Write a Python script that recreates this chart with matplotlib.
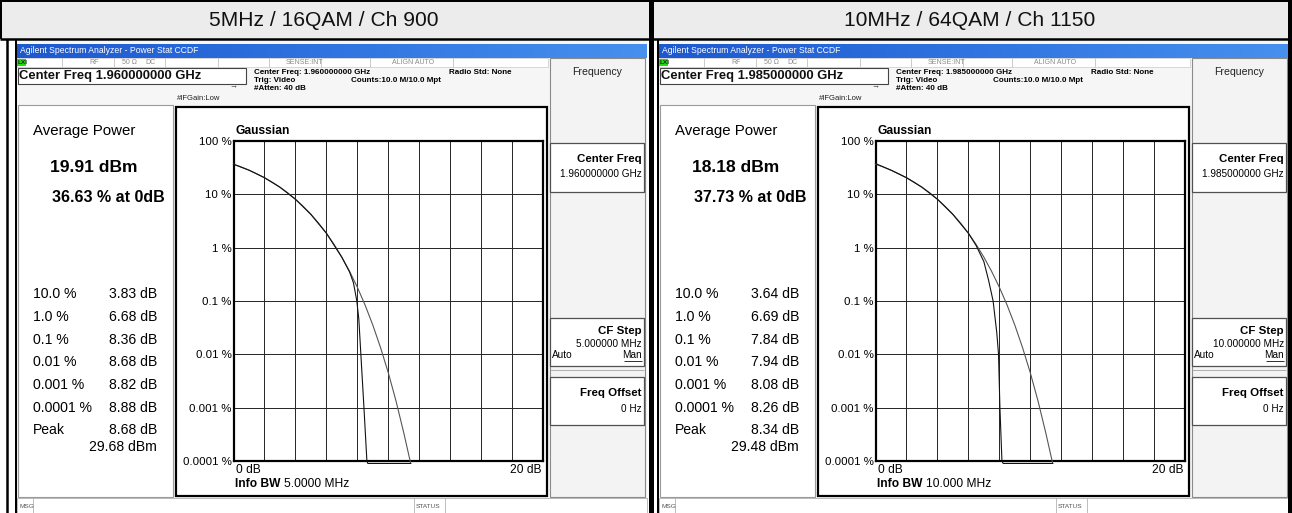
import matplotlib
matplotlib.use("Agg")
import matplotlib.pyplot as plt
from matplotlib.patches import Rectangle
from matplotlib.colors import LinearSegmentedColormap
import numpy as np

# ---------------- data ----------------
titles = ["5MHz / 16QAM / Ch 900", "10MHz / 64QAM / Ch 1150"]
center_freqs = ["1.960000000 GHz", "1.985000000 GHz"]
avg_power = ["19.91 dBm", "18.18 dBm"]
pct_at_0db = ["36.63 % at 0dB", "37.73 % at 0dB"]
ccdf_labels = ["10.0 %", "1.0 %", "0.1 %", "0.01 %", "0.001 %", "0.0001 %", "Peak"]
ccdf_values_5mhz = ["3.83 dB", "6.68 dB", "8.36 dB", "8.68 dB", "8.82 dB", "8.88 dB", "8.68 dB"]
ccdf_values_10mhz = ["3.64 dB", "6.69 dB", "7.84 dB", "7.94 dB", "8.08 dB", "8.26 dB", "8.34 dB"]
peak_dbm = ["29.68 dBm", "29.48 dBm"]
info_bw = ["5.0000 MHz", "10.000 MHz"]
cf_step = ["5.000000 MHz", "10.000000 MHz"]

# Gaussian reference curve (dB above average, % probability)
gauss_db = [0, 0.5, 1, 1.5, 2, 2.5, 3, 3.5, 4, 4.5, 5, 5.5, 6, 6.5, 7, 7.5,
            8, 8.5, 9, 9.5, 10, 10.5, 11, 11.45]
gauss_pct = [36.8, 32.6, 28.4, 24.3, 20.5, 16.9, 13.6, 10.7, 8.1, 5.97, 4.23,
             2.88, 1.87, 1.15, 0.666, 0.361, 0.182, 0.0843, 0.0355, 0.01345,
             0.00454, 0.00134, 0.00034, 0.00009]

# measured traces
meas5_db = [0, 1, 2, 3, 4, 5, 6, 7, 7.5, 7.75, 7.97, 8.1, 8.23, 8.43, 8.62, 8.68, 11.45]
meas5_pct = [36.63, 28.4, 20.5, 13.6, 8.1, 4.2, 1.87, 0.66, 0.35, 0.22, 0.1, 0.045,
             0.01, 0.001, 0.0001, 0.00009, 0.00009]
meas10_db = [0, 1, 2, 3, 4, 5, 6, 6.5, 7.0, 7.3, 7.6, 7.84, 7.95, 8.04, 8.17, 8.25, 11.45]
meas10_pct = [37.73, 28.4, 20.5, 13.6, 8.1, 4.2, 1.87, 1.1, 0.55, 0.25, 0.1, 0.025,
              0.01, 0.001, 0.0001, 0.00009, 0.00009]

ytick_vals = [100, 10, 1, 0.1, 0.01, 0.001, 0.0001]
ytick_labels = ["100 %", "10 %", "1 %", "0.1 %", "0.01 %", "0.001 %", "0.0001 %"]

# ---------------- layout ----------------
W, H, DPI = 1292, 513, 100
FONT = "Liberation Sans"
plt.rcParams["font.family"] = [FONT, "DejaVu Sans"]


def pt(px):
    return px * 72.0 / DPI


fig = plt.figure(figsize=(W / DPI, H / DPI), dpi=DPI)
fig.patch.set_facecolor("white")
ov = fig.add_axes([0, 0, 1, 1], zorder=0)
ov.set_axis_off()

cmap_bar = LinearSegmentedColormap.from_list("bar", ["#1d58cf", "#2f74e0", "#4790ee"])


def T(x, y, s, px, **kw):
    kw.setdefault("va", "center")
    kw.setdefault("ha", "left")
    kw.setdefault("color", "black")
    ov.text(x, y, s, fontsize=pt(px), **kw)


def R(x0, y0, x1, y1, **kw):
    kw.setdefault("fc", "none")
    kw.setdefault("ec", "none")
    ov.add_patch(Rectangle((x0, y0), x1 - x0, y1 - y0, **kw))


def L(xs, ys, c="black", lw=1.0):
    ov.plot(xs, ys, color=c, lw=pt(lw), solid_capstyle="butt")


def screen(ox, i, mdb, mpct, vals):
    # screen background & frame
    R(15 + ox, 40, 647 + ox, 513, fc="#f6f6f6")
    L([15.5 + ox, 15.5 + ox], [40, 513], lw=2)
    # title bar
    ov.imshow(np.linspace(0, 1, 200).reshape(1, -1), cmap=cmap_bar, aspect="auto",
              extent=(17 + ox, 647 + ox, 58, 44), zorder=1)
    T(20 + ox, 50.5, "Agilent Spectrum Analyzer - Power Stat CCDF", 8.6, color="white", zorder=2)
    # status row
    R(17 + ox, 58, 548 + ox, 67, fc="white", ec="#c8c8c8", lw=0.5)
    R(17 + ox, 58.5, 26 + ox, 66, fc="#22dd11")
    T(18 + ox, 62.3, "LXI", 6.5, weight="bold", color="#103010")
    for sx in [62, 114, 165, 218, 269, 321, 370, 453]:
        L([sx + ox, sx + ox], [58, 67], c="#c0c0c0", lw=0.8)
    for sx, s in [(89, "RF"), (122, "50 Ω"), (145, "DC"), (286, "SENSE:INT"), (392, "ALIGN AUTO")]:
        T(sx + ox, 62.5, s, 7, color="#8a8a8a")
    # centre freq box
    R(17.5 + ox, 68, 246 + ox, 84, fc="white", ec="#444444", lw=0.8)
    T(19 + ox, 76.3, "Center Freq " + center_freqs[i], 13, weight="bold", color="#111111")
    T(229 + ox, 86.5, "→", 8, color="#333333")
    T(177 + ox, 98.5, "#IFGain:Low", 7.6, color="#222222")
    info_px = 8.0
    T(254 + ox, 72.5, "Center Freq: " + center_freqs[i], info_px, weight="bold")
    T(449 + ox, 72.5, "Radio Std: None", info_px, weight="bold")
    T(254 + ox, 80.5, "Trig: Video", info_px, weight="bold")
    T(351 + ox, 80.5, "Counts:10.0 M/10.0 Mpt", info_px, weight="bold")
    T(254 + ox, 88.5, "#Atten: 40 dB", info_px, weight="bold")

    # left result panel
    R(17.5 + ox, 105, 173 + ox, 497, fc="white", ec="#9a9a9a", lw=0.8)
    T(33 + ox, 131, "Average Power", 15)
    T(50 + ox, 167, avg_power[i], 17.5, weight="bold")
    T(52 + ox, 197, pct_at_0db[i], 16, weight="bold")
    rows_y = [294, 317, 340, 362, 385, 408, 430]
    for lab, val, yy in zip(ccdf_labels, vals, rows_y):
        T(33 + ox, yy, lab, 14)
        T(157 + ox, yy, val, 14, ha="right")
    T(157 + ox, 447, peak_dbm[i], 14, ha="right")

    # plot box
    R(176 + ox, 107, 547 + ox, 496, fc="white", ec="black", lw=pt(2.2))
    T(235 + ox, 131, "Gaussian", 12, weight="bold")
    T(236 + ox, 470, "0 dB", 12)
    T(541 + ox, 470, "20 dB", 12, ha="right")
    T(235 + ox, 484, "Info BW", 12, weight="bold")
    T(284 + ox, 484, info_bw[i], 12)

    # softkey panel
    R(549.5 + ox, 58, 644.5 + ox, 497, fc="#f3f3f3", ec="#8a8a8a", lw=0.8)
    T(597 + ox, 72, "Frequency", 10.5, ha="center", color="#222222")
    for (y0, y1) in [(143, 192), (318, 366), (377, 425)]:
        R(550 + ox, y0, 644 + ox, y1, fc="white", ec="#505050", lw=0.9)
    T(642 + ox, 158.5, "Center Freq", 11.5, weight="bold", ha="right")
    T(642 + ox, 174, center_freqs[i], 10, ha="right")
    T(642 + ox, 331, "CF Step", 11.5, weight="bold", ha="right")
    T(642 + ox, 344, cf_step[i], 10, ha="right")
    T(552 + ox, 355, "Auto", 10)
    T(642 + ox, 355, "Man", 10, ha="right")
    L([624 + ox, 642 + ox], [361, 361], lw=0.8)
    L([550 + ox, 644 + ox], [370, 370], c="#a0a0a0", lw=0.8)
    T(642 + ox, 393, "Freq Offset", 11.5, weight="bold", ha="right")
    T(642 + ox, 409, "0 Hz", 10, ha="right")

    # message bar
    R(17 + ox, 498, 647 + ox, 513, fc="white", ec="#b0b0b0", lw=0.6)
    T(19 + ox, 506, "MSG", 6.5, color="#555555")
    for sx in [33, 414, 445]:
        L([sx + ox, sx + ox], [498, 513], c="#b0b0b0", lw=0.8)
    T(416 + ox, 506, "STATUS", 6.5, color="#555555")

    # CCDF axes
    ax = fig.add_axes([(233.5 + ox) / W, 1 - 461 / H, 309.5 / W, 320 / H], zorder=3)
    ax.set_yscale("log")
    ax.set_xlim(0, 20)
    ax.set_ylim(0.0001, 100)
    ax.set_xticks(np.arange(0, 21, 2))
    ax.set_xticklabels([])
    ax.set_yticks(ytick_vals)
    ax.set_yticklabels(ytick_labels)
    ax.yaxis.set_minor_locator(matplotlib.ticker.NullLocator())
    ax.tick_params(length=0, pad=1.5, labelsize=pt(11.5))
    ax.grid(True, color="#2a2a2a", lw=pt(1.0))
    ax.set_axisbelow(True)
    for sp in ax.spines.values():
        sp.set_linewidth(pt(2.2))
    ax.plot(gauss_db, gauss_pct, color="#555555", lw=pt(1.1), clip_on=False, zorder=4)
    ax.plot(mdb, mpct, color="#111111", lw=pt(1.1), clip_on=False, zorder=5)


screen(0, 0, meas5_db, meas5_pct, ccdf_values_5mhz)
screen(642, 1, meas10_db, meas10_pct, ccdf_values_10mhz)

# table frame and header
R(0, 0, W, 38.5, fc="#ececec")
for i, t in enumerate(titles):
    T(324 + i * 646, 20, t, 21, ha="center", color="#111111")
L([0, W], [1, 1], lw=2)
L([0, W], [38.5, 38.5], lw=2.5)
L([1, 1], [0, 38.5], lw=2)
L([6.5, 6.5], [38.5, 513], lw=2.5)
L([650.5, 650.5], [0, 513], lw=5)
L([1290, 1290], [0, 513], lw=4)

ov.set_xlim(0, W)
ov.set_ylim(H, 0)
fig.savefig("out.png", dpi=DPI)
